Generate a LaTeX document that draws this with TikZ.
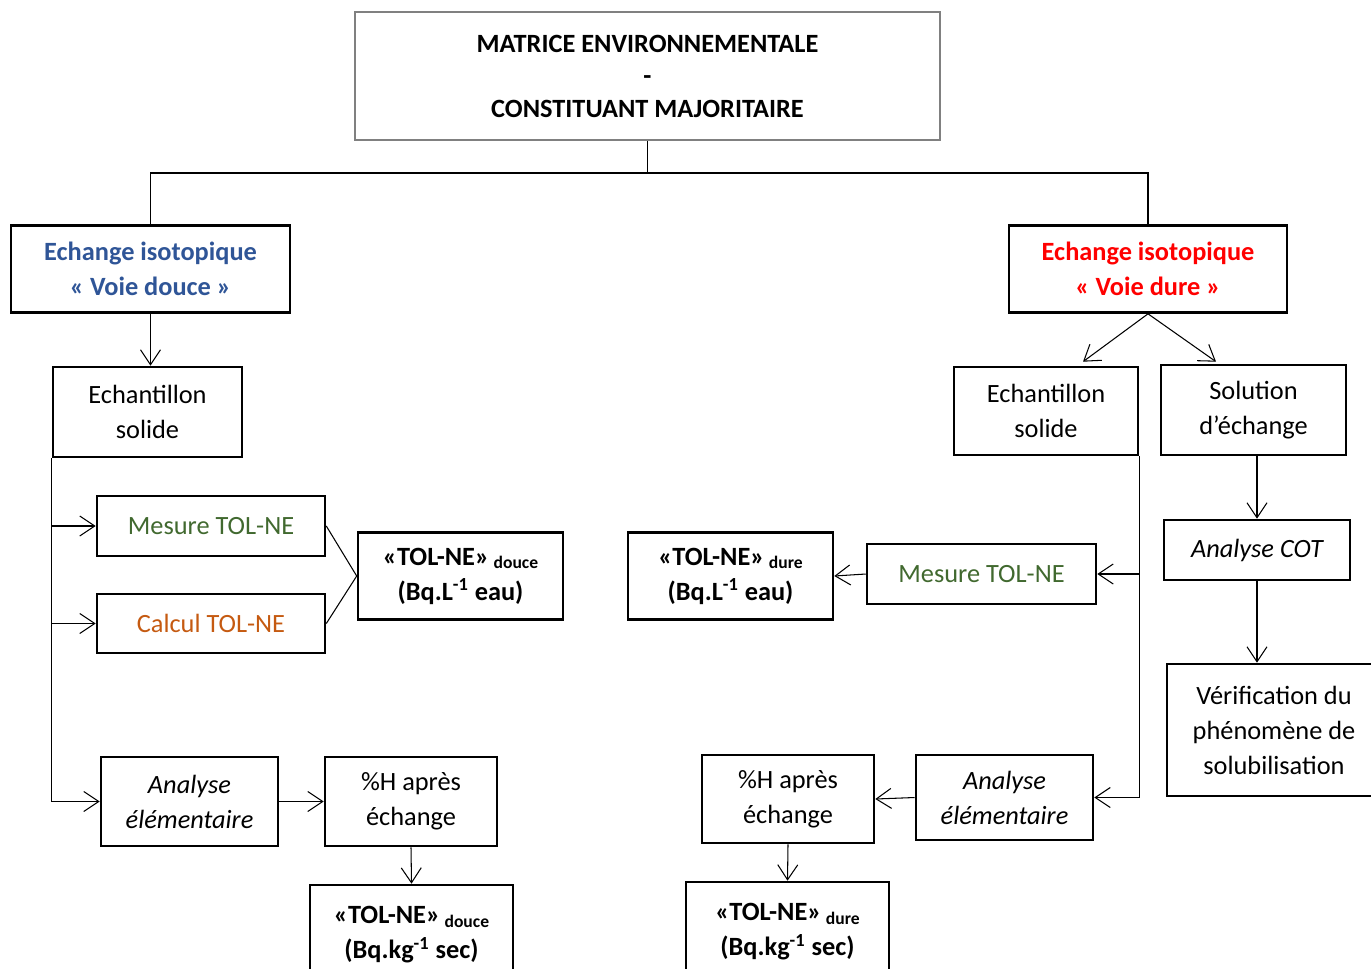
\documentclass[tikz,border=0pt]{standalone}
\usepackage{fontspec}
\setmainfont{Carlito}
\usetikzlibrary{arrows.meta}
\definecolor{bleuvoie}{HTML}{2F5597}
\definecolor{rougevoie}{HTML}{FF0000}
\definecolor{vertmesure}{HTML}{41692F}
\definecolor{orangecalc}{HTML}{C55A11}
\definecolor{grisbord}{HTML}{808080}
\tikzset{boite/.style={draw=black, line width=1.5pt, align=center, inner sep=0pt,
    font=\fontsize{15}{19.9}\selectfont},
fleche/.style={-{Straight Barb[length=3mm,width=4mm]}, line width=0.6pt},
%plain connector without tip
trait/.style={line width=0.6pt}}
\newcommand{\indice}[1]{\raisebox{-0.3ex}{\fontsize{10}{10}\selectfont #1}}

\begin{document}
\begin{tikzpicture}[x=0.02cm, y=-0.02cm]

    \useasboundingbox (0,0) rectangle (1371,968);
    \clip (0,0) rectangle (1371,968);

    \node[boite, draw=grisbord, minimum width=11.7cm, minimum height=2.56cm,
          font=\bfseries\fontsize{15}{18.5}\selectfont] (matrice) at (647.5,76)
          {MATRICE ENVIRONNEMENTALE\\-\\CONSTITUANT MAJORITAIRE};
    \coordinate (split) at (647.5,173);

    \node[boite, minimum width=5.58cm, minimum height=1.74cm, text=bleuvoie,
          font=\bfseries\fontsize{15}{19.9}\selectfont] (douce) at (150.5,269)
          {Echange isotopique\\« Voie douce »};
    \node[boite, minimum width=5.56cm, minimum height=1.74cm, text=rougevoie,
          font=\bfseries\fontsize{15}{19.9}\selectfont] (dure) at (1148,269)
          {Echange isotopique\\« Voie dure »};

    % voie douce
    \node[boite, minimum width=3.78cm, minimum height=1.8cm] (echL) at (147.5,412) {Echantillon\\solide};
    \node[boite, minimum width=4.56cm, minimum height=1.2cm, text=vertmesure] (mesL) at (211,526) {Mesure TOL-NE};
    \node[boite, minimum width=4.56cm, minimum height=1.18cm, text=orangecalc] (calL) at (211,623.5) {Calcul TOL-NE};
    \node[boite, minimum width=4.1cm, minimum height=1.74cm, font=\bfseries\fontsize{15}{19.9}\selectfont] (tolL) at (460.5,576)
          {«TOL-NE»\,\indice{douce}\\(Bq.L\textsuperscript{-1} eau)};
    \node[boite, minimum width=3.54cm, minimum height=1.78cm, font=\itshape\fontsize{15}{19.9}\selectfont] (anaL) at (189.5,801.5)
          {Analyse\\élémentaire};
    \node[boite, minimum width=3.44cm, minimum height=1.78cm] (phL) at (411,801.5) {\%H après\\échange};
    \node[boite, minimum width=4.06cm, minimum height=2cm, font=\bfseries\fontsize{15}{19.9}\selectfont] (kgL) at (411.5,935)
          {«TOL-NE»\,\indice{douce}\\(Bq.kg\textsuperscript{-1} sec)};

    % voie dure
    \node[boite, minimum width=3.68cm, minimum height=1.76cm] (echR) at (1046,411) {Echantillon\\solide};
    \node[boite, minimum width=3.7cm, minimum height=1.8cm] (solR) at (1253.5,410) {Solution\\d’échange};
    \node[boite, minimum width=4.58cm, minimum height=1.2cm, text=vertmesure] (mesR) at (981.5,574) {Mesure TOL-NE};
    \node[boite, minimum width=4.1cm, minimum height=1.74cm, font=\bfseries\fontsize{15}{19.9}\selectfont] (tolR) at (730.5,576)
          {«TOL-NE»\,\indice{dure}\\(Bq.L\textsuperscript{-1} eau)};
    \node[boite, minimum width=3.72cm, minimum height=1.2cm, font=\itshape\fontsize{15}{19.9}\selectfont] (cot) at (1257,550) {Analyse COT};
    \node[boite, minimum width=4.28cm, minimum height=2.64cm] (verif) at (1274,730)
          {Vérification du\\phénomène de\\solubilisation};
    \node[boite, minimum width=3.54cm, minimum height=1.7cm, font=\itshape\fontsize{15}{19.9}\selectfont] (anaR) at (1004.5,797.5)
          {Analyse\\élémentaire};
    \node[boite, minimum width=3.44cm, minimum height=1.76cm] (phR) at (788,799) {\%H après\\échange};
    \node[boite, minimum width=4.06cm, minimum height=2cm, font=\bfseries\fontsize{15}{19.9}\selectfont] (kgR) at (787.5,932)
          {«TOL-NE»\,\indice{dure}\\(Bq.kg\textsuperscript{-1} sec)};

    \draw[trait] (matrice.south) -- (split);
    \draw[trait] (split) -| (douce.north);
    \draw[trait] (split) -| (dure.north);

    \draw[fleche] (douce.south) -- (douce.south |- echL.north);
    \foreach \n in {mesL,calL,anaL}
    \draw[fleche] (echL.south west) |- (\n.west);
    \draw[trait] (mesL.east) -- (tolL.west);
    \draw[trait] (calL.east) -- (tolL.west);
    \draw[fleche] (anaL.east) -- (phL.west);
    \draw[fleche] (phL.south) -- (kgL.north);

    \draw[fleche] (dure.south) -- ([xshift=0.74cm,yshift=0.08cm]echR.north);
    \draw[fleche] (dure.south) -- ([xshift=-0.75cm,yshift=0.04cm]solR.north);
    \foreach \n in {mesR,anaR}
    \draw[fleche] (echR.south east) |- (\n.east);
    \draw[fleche] (mesR.west) -- (tolR.east);
    \draw[fleche] (cot.north |- solR.south) -- (cot.north);
    \draw[fleche] (cot.south) -- (cot.south |- verif.north);
    \draw[fleche] (anaR.west) -- (phR.east);
    \draw[fleche] (phR.south) -- (kgR.north);

\end{tikzpicture}
\end{document}
